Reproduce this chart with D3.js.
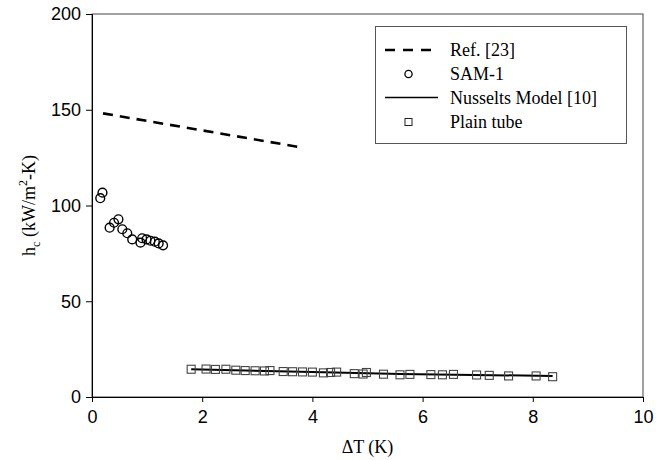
<!DOCTYPE html>
<html>
<head>
<meta charset="utf-8">
<script src="https://cdn.jsdelivr.net/npm/d3@7"></script>
<style>
  html, body { margin: 0; padding: 0; background: #fff; }
  svg { display: block; }
</style>
</head>
<body>
<div id="viz"></div>
<script>
// hc vs dT — SAM-1 / plain tube / Nusselt model / Ref. [23]

const xTicks = [0, 2, 4, 6, 8, 10];
const yTicks = [0, 50, 100, 150, 200];

// Ref. [23] (dashed)
const refX = [0.2, 3.83];
const refY = [148.1, 130.2];

// SAM-1 (circles)
const samX = [0.19, 0.15, 0.32, 0.40, 0.48, 0.55, 0.64, 0.73, 0.88, 0.91, 0.99, 1.06, 1.14, 1.21, 1.29];
const samY = [106.7, 103.8, 88.4, 91.0, 92.8, 87.6, 85.5, 82.3, 80.6, 82.9, 82.3, 81.6, 81.1, 80.2, 79.2];

// Nusselts Model [10] (solid)
const nuX = [1.8, 4.0, 5.6, 8.36];
const nuY = [14.5, 13.0, 12.0, 11.0];

// Plain tube (squares)
const plainX = [1.80, 2.07, 2.24, 2.43, 2.61, 2.78, 2.96, 3.13, 3.23, 3.47, 3.64, 3.82, 4.00, 4.20, 4.33, 4.44,
                4.76, 4.92, 4.98, 5.29, 5.59, 5.77, 6.15, 6.36, 6.56, 6.98, 7.21, 7.56, 8.06, 8.36];
const plainY = [14.5, 14.6, 14.4, 14.5, 14.0, 13.8, 13.7, 13.6, 13.8, 13.3, 13.2, 13.1, 13.0, 12.6, 12.8, 13.0,
                12.2, 12.0, 12.8, 11.9, 11.6, 11.8, 11.7, 11.6, 11.8, 11.5, 11.3, 11.0, 11.0, 10.6];

const width = 671, height = 460;
const margin = {left: 92, right: 28, top: 14, bottom: 63};

const svg = d3.select("#viz").append("svg")
  .attr("width", width)
  .attr("height", height);

const x = d3.scaleLinear().domain([0, 10]).range([margin.left, width - margin.right]);
const y = d3.scaleLinear().domain([0, 200]).range([height - margin.bottom, margin.top]);

const SANS = "'Liberation Sans', Arial, sans-serif";
const SERIF = "'Liberation Serif', 'Times New Roman', serif";

// frame (top/right)
svg.append("rect")
  .attr("x", x(0)).attr("y", y(200))
  .attr("width", x(10) - x(0)).attr("height", y(0) - y(200))
  .attr("fill", "none").attr("stroke", "#444").attr("stroke-width", 1);

// axes
const xAxis = svg.append("g")
  .attr("transform", `translate(0,${y(0)})`)
  .call(d3.axisBottom(x).tickValues(xTicks).tickSize(5).tickPadding(8).tickFormat(d3.format("d")));
const yAxis = svg.append("g")
  .attr("transform", `translate(${x(0)},0)`)
  .call(d3.axisLeft(y).tickValues(yTicks).tickSize(6).tickPadding(5).tickFormat(d3.format("d")));

[xAxis, yAxis].forEach(g => {
  g.select(".domain").attr("stroke", "#000");
  g.selectAll(".tick line").attr("stroke", "#000");
  g.selectAll(".tick text")
    .attr("fill", "#000")
    .style("font-family", SANS)
    .style("font-size", "18px");
});

// axis titles
svg.append("text")
  .attr("x", (x(0) + x(10)) / 2)
  .attr("y", 453)
  .attr("text-anchor", "middle")
  .style("font-family", SERIF)
  .style("font-size", "18px")
  .text("\u0394T (K)");

const yl = svg.append("text")
  .attr("transform", `translate(35,${(y(0) + y(200)) / 2}) rotate(-90)`)
  .attr("text-anchor", "middle")
  .style("font-family", SERIF)
  .style("font-size", "18px");
yl.append("tspan").text("h");
yl.append("tspan").attr("dy", 5).style("font-size", "12px").text("c");
yl.append("tspan").attr("dy", -5).text(" (kW/m");
yl.append("tspan").attr("dy", -8).style("font-size", "12px").text("2");
yl.append("tspan").attr("dy", 8).text("-K)");

// Ref. [23]
const line = d3.line().x(d => x(d[0])).y(d => y(d[1]));
svg.append("path")
  .datum(d3.zip(refX, refY))
  .attr("d", line)
  .attr("fill", "none")
  .attr("stroke", "#000")
  .attr("stroke-width", 2.6)
  .attr("stroke-dasharray", "10,7");

// Nusselt model
svg.append("path")
  .datum(d3.zip(nuX, nuY))
  .attr("d", line)
  .attr("fill", "none")
  .attr("stroke", "#000")
  .attr("stroke-width", 2);

// plain tube squares
const sq = 8;
svg.append("g").selectAll("rect")
  .data(d3.zip(plainX, plainY))
  .enter().append("rect")
  .attr("x", d => x(d[0]) - sq / 2)
  .attr("y", d => y(d[1]) - sq / 2)
  .attr("width", sq).attr("height", sq)
  .attr("fill", "none")
  .attr("stroke", "#444")
  .attr("stroke-width", 1.1);

// SAM-1 circles
svg.append("g").selectAll("circle")
  .data(d3.zip(samX, samY))
  .enter().append("circle")
  .attr("cx", d => x(d[0]))
  .attr("cy", d => y(d[1]))
  .attr("r", 4.4)
  .attr("fill", "none")
  .attr("stroke", "#000")
  .attr("stroke-width", 1.4);

// legend
const lg = svg.append("g");
lg.append("rect")
  .attr("x", 375.5).attr("y", 26.5)
  .attr("width", 251).attr("height", 117)
  .attr("fill", "#fff").attr("stroke", "#555").attr("stroke-width", 1);

const legendItems = ["Ref. [23]", "SAM-1", "Nusselts Model [10]", "Plain tube"];
const rowY = [50, 74, 97.5, 122];

lg.append("line")
  .attr("x1", 385).attr("x2", 433).attr("y1", rowY[0]).attr("y2", rowY[0])
  .attr("stroke", "#000").attr("stroke-width", 2.6).attr("stroke-dasharray", "10,8");
lg.append("circle")
  .attr("cx", 408.5).attr("cy", rowY[1]).attr("r", 3.6)
  .attr("fill", "none").attr("stroke", "#000").attr("stroke-width", 1.3);
lg.append("line")
  .attr("x1", 385).attr("x2", 438).attr("y1", rowY[2]).attr("y2", rowY[2])
  .attr("stroke", "#000").attr("stroke-width", 1.3);
lg.append("rect")
  .attr("x", 405).attr("y", rowY[3] - 3.5).attr("width", 7).attr("height", 7)
  .attr("fill", "none").attr("stroke", "#222").attr("stroke-width", 1);

lg.selectAll("text.lbl")
  .data(legendItems)
  .enter().append("text")
  .attr("class", "lbl")
  .attr("x", 450)
  .attr("y", (d, i) => rowY[i] + 6)
  .style("font-family", SERIF)
  .style("font-size", "18px")
  .text(d => d);
</script>
</body>
</html>
